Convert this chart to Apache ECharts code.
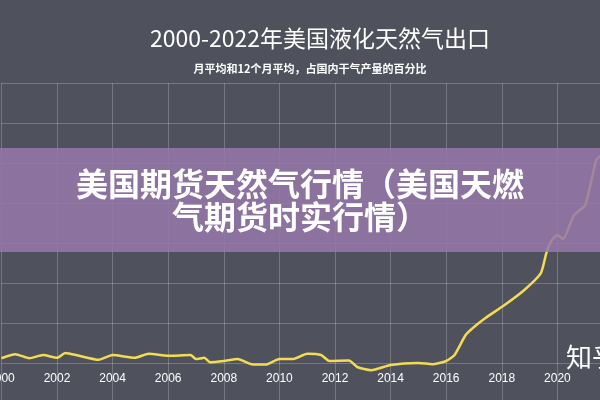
<!DOCTYPE html><html><head><meta charset="utf-8"><script src="https://cdn.jsdelivr.net/npm/echarts@6/dist/echarts.min.js"></script>
<style>html,body{margin:0;background:#4f525c}#c{width:600px;height:400px}</style></head><body><div id="c"></div><script>
const years=[2000,2000.5,2001,2001.5,2002,2002.3,2002.8,2003.5,2004,2004.8,2005.3,2006,2006.8,2007,2007.3,2007.5,2008,2008.5,2009,2009.5,2010,2010.5,2011,2011.5,2011.8,2012.5,2012.8,2013.3,2014,2015,2015.5,2016,2016.3,2016.7,2017,2017.4,2018.1,2018.8,2019.4,2019.6,2019.8,2020,2020.2,2020.6,2021,2021.4,2021.6];
const values=[0.12,0.22,0.12,0.2,0.13,0.25,0.18,0.08,0.2,0.13,0.23,0.18,0.2,0.1,0.13,0.02,0.05,0.1,-0.03,-0.04,0.1,0.1,0.23,0.2,0.05,0.06,-0.1,-0.18,-0.05,0.0,-0.03,0.05,0.2,0.7,0.9,1.12,1.45,1.82,2.24,2.74,3.07,3.2,3.1,3.7,3.95,5.07,5.2];
const xTicks=[2000,2002,2004,2006,2008,2010,2012,2014,2016,2018,2020];
const c=echarts.init(document.getElementById('c'));
c.setOption({backgroundColor:'#4f525c',animation:false,
title:[{text:'2000-2022年美国液化天然气出口',left:315,top:22,textAlign:'center',textStyle:{color:'#fff',fontSize:23,fontWeight:'normal',fontFamily:'Noto Sans CJK SC'}},
{text:'月平均和12个月平均，占国内干气产量的百分比',left:305,top:58,textAlign:'center',textStyle:{color:'#fff',fontSize:11,fontWeight:'bold',fontFamily:'Noto Sans CJK SC'}}],
grid:{left:1.4,width:611.6,top:83,height:320,containLabel:false,outerBoundsMode:'none'},
xAxis:{type:'value',min:2000,max:2022,interval:2,axisLine:{show:false},axisTick:{show:false},
 splitLine:{lineStyle:{color:'rgba(255,255,255,0.22)'}},axisLabel:{color:'#fff',fontSize:12,margin:-30,showMaxLabel:false,formatter:v=>xTicks.includes(v)?String(v):''}},
yAxis:{type:'value',min:-1,max:7,interval:1,axisLabel:{show:false},axisLine:{show:false},axisTick:{show:false},splitLine:{lineStyle:{color:'rgba(255,255,255,0.22)'}}},
series:[{type:'line',data:years.map((y,i)=>[y,values[i]]),showSymbol:false,smooth:0.2,lineStyle:{color:'#f2dc55',width:2.5},z:2}],
graphic:[{type:'rect',shape:{x:0,y:148,width:600,height:104},style:{fill:'rgba(150,120,170,0.85)'},z:10},
{type:'text',x:300,y:184,style:{text:'美国期货天然气行情（美国天燃',fill:'#fff',font:'bold 32px "Noto Sans CJK SC"',align:'center',verticalAlign:'middle'},z:11},
{type:'text',x:300,y:217,style:{text:'气期货时实行情）',fill:'#fff',font:'bold 32px "Noto Sans CJK SC"',align:'center',verticalAlign:'middle'},z:11},
{type:'text',x:566,y:344,style:{text:'知乎',fill:'#fff',font:'26px "Noto Sans CJK SC"'},z:11}]
});
</script></body></html>
